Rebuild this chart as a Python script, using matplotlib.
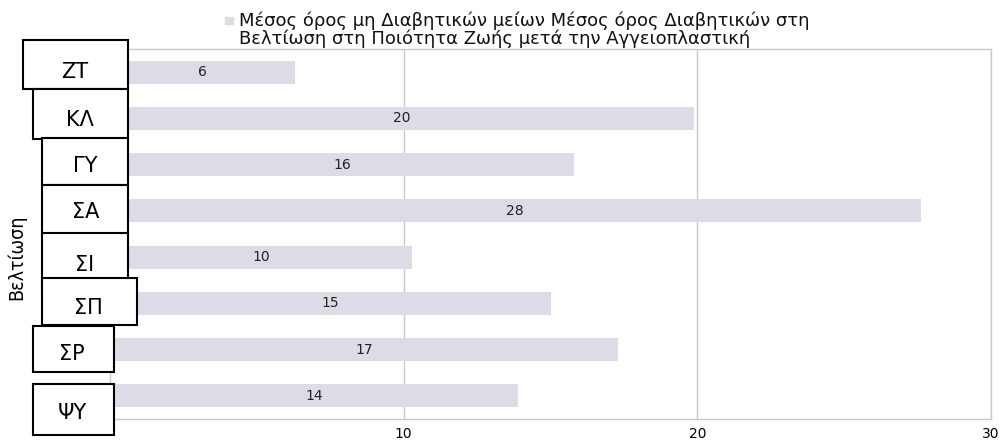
import matplotlib.pyplot as plt
from matplotlib.patches import Rectangle

plt.rcParams['font.family'] = ['DejaVu Sans']

# data (top to bottom)
categories = ['ΖΤ', 'ΚΛ', 'ΓΥ', 'ΣΑ', 'ΣΙ', 'ΣΠ', 'ΣΡ', 'ΨΥ']
values = [6.3, 19.9, 15.8, 27.6, 10.3, 15.0, 17.3, 13.9]
value_labels = ['6', '20', '16', '28', '10', '15', '17', '14']
xticks = [10, 20, 30]
legend_label = ('Μέσος όρος μη Διαβητικών μείων Μέσος όρος Διαβητικών στη\n'
                'Βελτίωση στη Ποιότητα Ζωής μετά την Αγγειοπλαστική')
y_title = 'Βελτίωση'

W, H = 1001, 444
fig = plt.figure(figsize=(W / 100, H / 100), dpi=100)
ax = fig.add_axes([110 / W, (H - 419) / H, (991 - 110) / W, (419 - 49) / H])

bar_color = '#dcdbe6'
ypos = list(range(len(categories)))
ax.barh(ypos, values, height=0.5, color=bar_color, zorder=2)
for y, v, lab in zip(ypos, values, value_labels):
    ax.text(v / 2, y, lab, ha='center', va='center', fontsize=10, color='#222222', zorder=3)

ax.set_xlim(0, 30)
ax.set_ylim(len(categories) - 0.5, -0.5)
ax.set_xticks(xticks)
ax.set_yticks([])
ax.tick_params(axis='x', length=0, labelsize=10, pad=6)
ax.grid(axis='x', color='#c8c8c8', linewidth=1, zorder=1)
for s in ax.spines.values():
    s.set_color('#c8c8c8')
    s.set_linewidth(1)

# legend marker and text
fig.patches.append(Rectangle((225 / W, (H - 24) / H), 8 / W, 7 / H,
                             transform=fig.transFigure, color=bar_color))
fig.text(239 / W, (H - 12) / H, legend_label, fontsize=13, va='top', ha='left',
         linespacing=0.95, color='#111111')

fig.text(17 / W, (H - 257) / H, y_title, rotation=90, ha='center', va='center',
         fontsize=14, fontstretch='condensed')

# category boxes: (left, top, right, bottom, text x, text y) in pixels
boxes = [(23, 40, 128, 89, 75, 72),
         (33, 89, 128, 139, 80, 120),
         (42, 138, 128, 185, 85, 166),
         (42, 185, 128, 234, 86, 212),
         (42, 233, 128, 289, 85, 265),
         (42, 278, 137, 325, 88, 308),
         (33, 326, 114, 372, 72, 354),
         (33, 384, 114, 435, 72, 413)]
for cat, (l, t, r, b, tx, ty) in zip(categories, boxes):
    fig.patches.append(Rectangle((l / W, (H - b) / H), (r - l) / W, (b - t) / H,
                                 transform=fig.transFigure, facecolor='white',
                                 edgecolor='black', linewidth=1.5, zorder=5))
    fig.text(tx / W, (H - ty) / H, cat, ha='center', va='center', fontsize=15, zorder=6)

fig.savefig('out.png', dpi=100)
